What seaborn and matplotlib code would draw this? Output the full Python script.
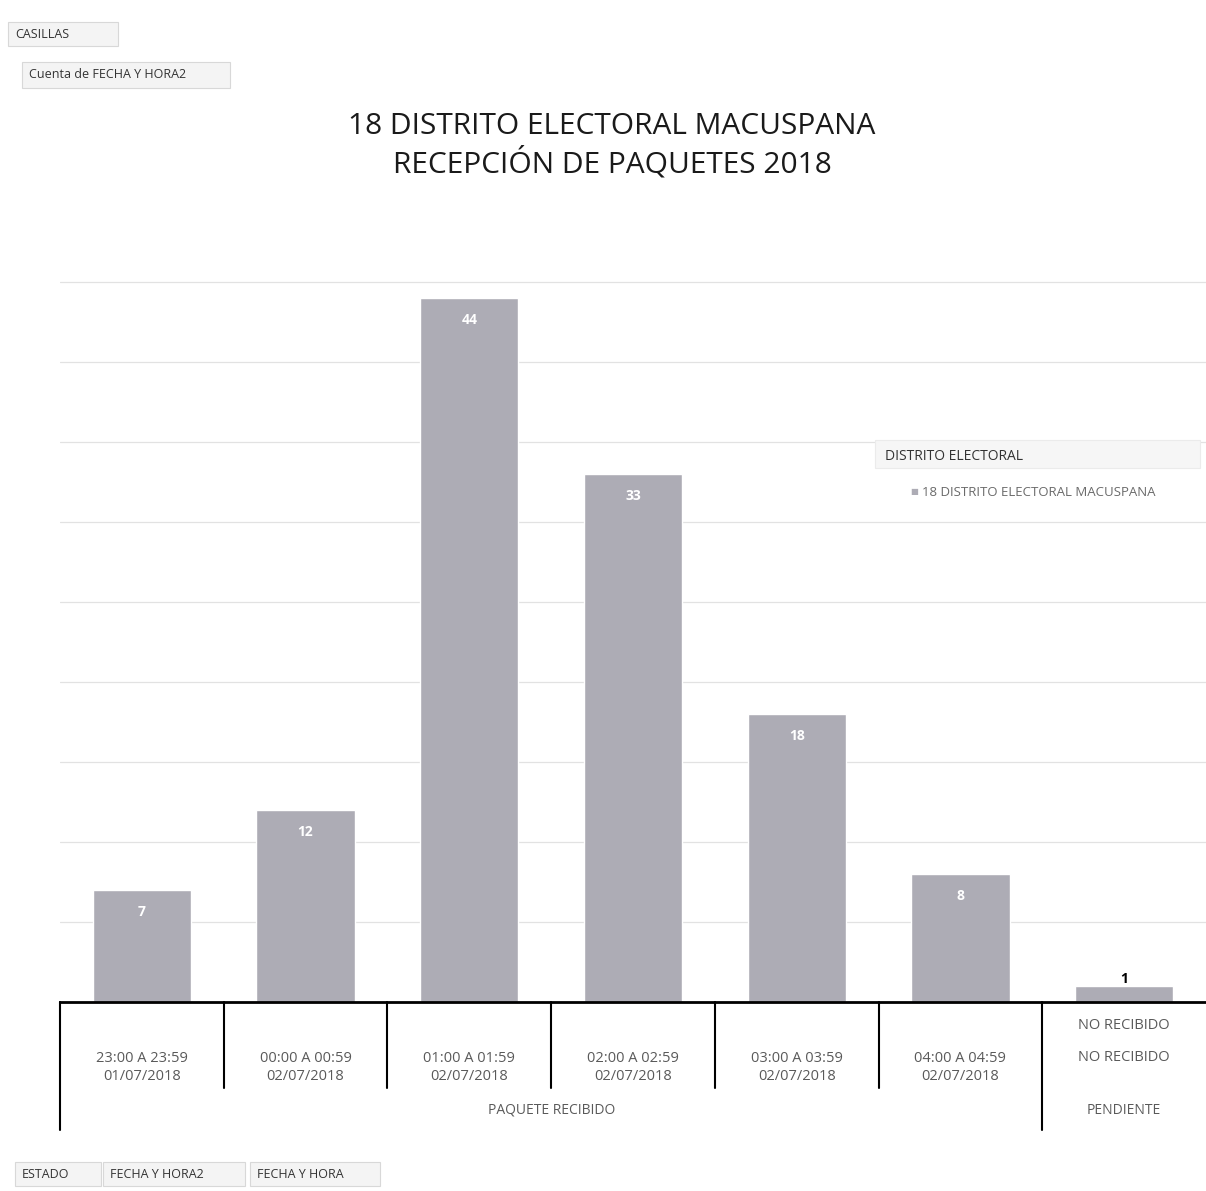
import matplotlib
matplotlib.use('Agg')
import matplotlib.pyplot as plt
import seaborn as sns
import pandas as pd
from matplotlib.patches import Rectangle
import matplotlib.transforms as mtransforms

# ---------- datos ----------
horas = ['23:00 A 23:59', '00:00 A 00:59', '01:00 A 01:59', '02:00 A 02:59',
         '03:00 A 03:59', '04:00 A 04:59', 'NO RECIBIDO']
fechas = ['01/07/2018', '02/07/2018', '02/07/2018', '02/07/2018',
          '02/07/2018', '02/07/2018', 'NO RECIBIDO']
estados = ['PAQUETE RECIBIDO', 'PENDIENTE']
n_por_estado = [6, 1]
casillas = [7, 12, 44, 33, 18, 8, 1]

df = pd.DataFrame({'categoria': [f'{h}|{f}' for h, f in zip(horas, fechas)],
                   'casillas': casillas})

sns.set_style('white')
plt.rcParams['font.family'] = ['Open Sans', 'DejaVu Sans']

fig = plt.figure(figsize=(12.06, 11.91), dpi=100)
ax = fig.add_axes([60 / 1206, 189 / 1191, 1146 / 1206, 800 / 1191])

color_barra = '#adacb5'
sns.barplot(data=df, x='categoria', y='casillas', color=color_barra,
            width=0.6, ax=ax, saturation=1)

ax.set_ylim(0, 50)
ax.set_xlim(-0.5, 6.5)
ax.set_yticks(range(5, 50, 5))
ax.yaxis.grid(True, color='#e2e2e2', linewidth=0.9)
ax.set_axisbelow(True)
ax.set_xticks([])
ax.set_yticklabels([])
ax.tick_params(left=False)
ax.set_xlabel('')
ax.set_ylabel('')
for s in ['top', 'right', 'left']:
    ax.spines[s].set_visible(False)
ax.spines['bottom'].set_linewidth(2)
ax.spines['bottom'].set_color('black')

# etiquetas de valores
for i, v in enumerate(casillas):
    if v > 3:
        ax.text(i, v, str(v), ha='center', va='top', color='white',
                fontsize=10, fontweight='bold',
                transform=ax.transData + mtransforms.ScaledTranslation(0, -15 / 100, fig.dpi_scale_trans))
    else:
        ax.text(i, v, str(v), ha='center', va='bottom', color='black',
                fontsize=10, fontweight='bold')

# eje de categorias en varios niveles
trans = mtransforms.blended_transform_factory(ax.transData, ax.transAxes)
txt_color = '#5a5a5a'
for i, (h, f) in enumerate(zip(horas, fechas)):
    if h == f:
        ax.text(i, -0.029, h, transform=trans, ha='center', va='center',
                fontsize=10.5, color=txt_color, clip_on=False)
        ax.text(i, -0.069, f, transform=trans, ha='center', va='center',
                fontsize=10.5, color=txt_color, clip_on=False)
    else:
        ax.text(i, -0.082, f'{h}\n{f}', transform=trans, ha='center', va='center',
                fontsize=10.5, color=txt_color, linespacing=1.3, clip_on=False)

for xb in [0.5, 1.5, 2.5, 3.5, 4.5]:
    ax.plot([xb, xb], [0, -0.108], transform=trans, color='black', lw=1.5, clip_on=False)
for xb in [-0.5, 5.5]:
    ax.plot([xb, xb], [0, -0.16], transform=trans, color='black', lw=1.5, clip_on=False)

inicio = -0.5
for est, n in zip(estados, n_por_estado):
    ax.text(inicio + n / 2 if n > 1 else inicio + 0.5, -0.135, est, transform=trans,
            ha='center', va='center', fontsize=10, color=txt_color, clip_on=False)
    inicio += n

# titulo
fig.text(0.5075, 0.894, '18 DISTRITO ELECTORAL MACUSPANA', ha='center', va='center',
         fontsize=21.5, color='#1a1a1a')
fig.text(0.5075, 0.863, 'RECEPCIÓN DE PAQUETES 2018', ha='center', va='center',
         fontsize=21.5, color='#1a1a1a')

# leyenda
fig.patches.append(Rectangle((875 / 1206, 1 - 468 / 1191), 325 / 1206, 28 / 1191,
                             transform=fig.transFigure, facecolor='#f6f6f6',
                             edgecolor='#ebebeb', lw=0.8))
fig.text(885 / 1206, 1 - 456 / 1191, 'DISTRITO ELECTORAL', ha='left', va='center',
         fontsize=10, color='#333333')
fig.text(910 / 1206, 1 - 492 / 1191, '■', ha='left', va='center',
         fontsize=6, color=color_barra)
fig.text(922 / 1206, 1 - 492 / 1191, '18 DISTRITO ELECTORAL MACUSPANA', ha='left',
         va='center', fontsize=9.5, color='#6a6a6a')

# botones de tabla dinamica
botones = [('CASILLAS', 8, 22, 110, 24), ('Cuenta de FECHA Y HORA2', 22, 62, 208, 26),
           ('ESTADO', 15, 1162, 86, 24), ('FECHA Y HORA2', 103, 1162, 142, 24),
           ('FECHA Y HORA', 250, 1162, 130, 24)]
for txt, x0, y0, w, h in botones:
    fig.patches.append(Rectangle((x0 / 1206, 1 - (y0 + h) / 1191), w / 1206, h / 1191,
                                 transform=fig.transFigure, facecolor='#f4f4f4',
                                 edgecolor='#d8d8d8', lw=0.8))
    fig.text((x0 + 7) / 1206, 1 - (y0 + h / 2) / 1191, txt, ha='left', va='center',
             fontsize=9, color='#333333')

fig.savefig('out.png', dpi=100, facecolor='white')
